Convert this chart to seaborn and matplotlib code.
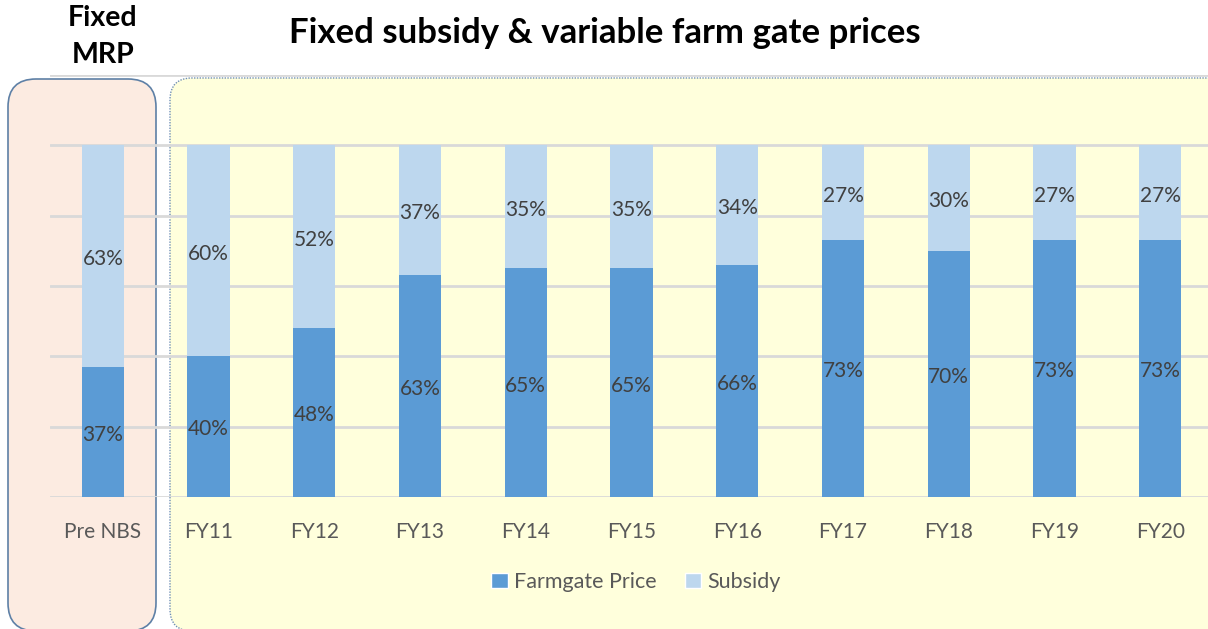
import pandas as pd
import seaborn as sns
import matplotlib.pyplot as plt
from matplotlib.patches import FancyBboxPatch, Patch

# values (percent of MRP)
periods = ["Pre NBS", "FY11", "FY12", "FY13", "FY14", "FY15", "FY16", "FY17", "FY18", "FY19", "FY20"]
farmgate = [37, 40, 48, 63, 65, 65, 66, 73, 70, 73, 73]
subsidy = [63, 60, 52, 37, 35, 35, 34, 27, 30, 27, 27]

farm_col = "#5B9BD5"
sub_col = "#BDD7EE"
txt_col = "#404040"

data = pd.DataFrame({"period": periods, "farmgate": farmgate, "subsidy": subsidy})
data["total"] = data["farmgate"] + data["subsidy"]

sns.set_style("white")
plt.rcParams["font.family"] = ["Lato", "DejaVu Sans"]

fig = plt.figure(figsize=(12.08, 6.29), dpi=100)

# background panels (in inches so the corners stay round)
pink = FancyBboxPatch((0.08, -0.02), 1.48, 5.52, boxstyle="round,pad=0,rounding_size=0.28",
                      transform=fig.dpi_scale_trans, facecolor="#FCEBE1", edgecolor="#5E80A6",
                      linewidth=1.2, zorder=0)
yellow = FancyBboxPatch((1.70, -0.02), 11.0, 5.53, boxstyle="round,pad=0,rounding_size=0.22",
                        transform=fig.dpi_scale_trans, facecolor="#FFFFDC", edgecolor="#6F8FB5",
                        linewidth=1.0, linestyle=(0, (1, 1)), zorder=0)
fig.patches.extend([pink, yellow])

ax = fig.add_axes([50 / 1208, 132 / 629, 1163 / 1208, 422 / 629])
ax.set_zorder(2)
ax.set_facecolor("none")

sns.barplot(data=data, x="period", y="total", color=sub_col, width=0.4, ax=ax,
            saturation=1, linewidth=0, zorder=3)
sns.barplot(data=data, x="period", y="farmgate", color=farm_col, width=0.4, ax=ax,
            saturation=1, linewidth=0, zorder=3)

for i, row in data.iterrows():
    ax.text(i, row["farmgate"] / 2 - 0.8, f"{row['farmgate']}%", ha="center", va="center",
            fontsize=15, color=txt_col, zorder=5)
    ax.text(i, row["farmgate"] + row["subsidy"] / 2 - 0.8, f"{row['subsidy']}%", ha="center",
            va="center", fontsize=15, color=txt_col, zorder=5)

ax.set_ylim(0, 120)
ax.set_xlim(-0.5, 10.5)
ax.set_yticks([0, 20, 40, 60, 80, 100, 120])
ax.set_yticklabels([])
ax.grid(axis="y", color="#D9D9D9", linewidth=2, zorder=1)
ax.set_axisbelow(True)
ax.tick_params(axis="both", length=0)
ax.tick_params(axis="x", labelsize=15, labelcolor="#595959", pad=18)
ax.set_xlabel("")
ax.set_ylabel("")
sns.despine(ax=ax, left=True, bottom=True)

fig.text(103 / 1208, 1 - 18 / 629, "Fixed", ha="center", va="center", fontsize=20.5,
         fontweight="bold", color="black")
fig.text(103 / 1208, 1 - 55 / 629, "MRP", ha="center", va="center", fontsize=20.5,
         fontweight="bold", color="black")
fig.text(605 / 1208, 1 - 33 / 629, "Fixed subsidy & variable farm gate prices", ha="center",
         va="center", fontsize=25, fontweight="bold", color="black")

handles = [Patch(facecolor=farm_col, label="Farmgate Price"), Patch(facecolor=sub_col, label="Subsidy")]
fig.legend(handles=handles, loc="center", bbox_to_anchor=(636 / 1208, 1 - 582 / 629), ncol=2,
           frameon=False, fontsize=15.5, labelcolor="#595959", handlelength=0.75, handleheight=0.75,
           handletextpad=0.3, columnspacing=1.3)

fig.savefig("out.png", dpi=100)
